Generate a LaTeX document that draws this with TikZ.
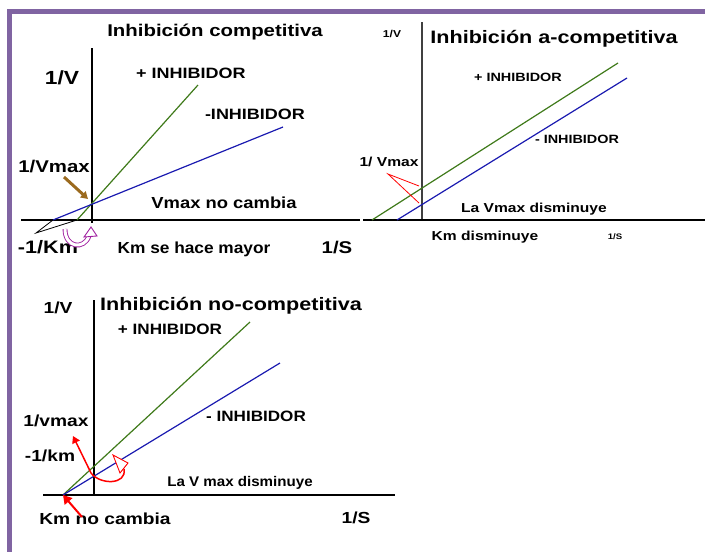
\documentclass[tikz,border=0pt]{standalone}
\usepackage{fontspec}
\setmainfont{Liberation Sans}
\usetikzlibrary{arrows.meta}
\tikzset{>=Triangle}

\definecolor{framecol}{HTML}{8064A2}
\definecolor{pluscol}{HTML}{3F7A1A}
\definecolor{minuscol}{HTML}{1A1AB0}
\definecolor{vmaxcol}{HTML}{9B6A1E}
\definecolor{kmcol}{HTML}{A020A0}
\newcommand{\pxfont}[1]{\fontsize{#1}{#1}\selectfont}

\tikzset{
    txt/.style = {inner sep = 0pt, anchor = base, font = \bfseries\pxfont{#1}},
    txt/.default = 16,
    stretch/.style = {xscale = #1},
    stretch/.default = 1.2,
    axisline/.style = {black, line width = 2pt},
    plusline/.style = {pluscol, line width = 1.2pt},
    minusline/.style = {minuscol, line width = 1.2pt},
}

\begin{document}
\begin{tikzpicture}[x = 1pt, y = -1pt]
    \useasboundingbox (0,0) rectangle (705,552);
    \draw[framecol, line width = 5pt] (9.5,552) -- (9.5,11.5) -- (705,11.5);

    % competitiva
    \node[txt = 17, stretch] (ctitle) at (215,36) {Inhibición competitiva};
    \node[txt = 19, stretch] (cv) at (62,84) {1/V};
    \node[txt = 15, stretch] (cplus) at (191,78) {+ INHIBIDOR};
    \node[txt = 15, stretch] (cminus) at (255,119) {-INHIBIDOR};
    \node[txt = 17, stretch] (cvmax) at (54,172) {1/Vmax};
    \node[txt = 16, stretch = 1.15] (cnote) at (224,208) {Vmax no cambia};
    \node[txt = 18, stretch] (ckm) at (48,253) {-1/Km};
    \node[txt = 16, stretch = 1.08] (cmayor) at (194,253) {Km se hace mayor};
    \node[txt = 17, stretch] (cs) at (337,253) {1/S};

    \coordinate (co) at (92,220);
    \draw[axisline] (92,48) -- (92,223);
    \draw[axisline] (21,220) -- (360,220);
    \draw[plusline] (77,220) -- (198,85);
    \draw[minusline] (53,220) -- (283,127);
    \draw[vmaxcol, line width = 3pt, -{Triangle[length = 7pt, width = 8pt]}] (64,177) -- (88,199);
    \draw[black, line width = .8pt] (53,220) -- (36,233) -- (77,220);
    \draw[kmcol, line width = .9pt, double = white, double distance = 3pt] (65,229) .. controls (65,248) and (84,250) .. (89,236);
    \draw[kmcol, line width = .9pt, fill = white] (84,237) -- (91,227) -- (97,236) -- cycle;

    % a-competitiva
    \node[txt = 10, stretch] (av) at (392,37) {1/V};
    \node[txt = 18, stretch] (atitle) at (554,43) {Inhibición a-competitiva};
    \node[txt = 12, stretch] (aplus) at (518,81) {+ INHIBIDOR};
    \node[txt = 12, stretch] (aminus) at (577,143) {- INHIBIDOR};
    \node[txt = 13, stretch] (avmax) at (389,166) {1/ Vmax};
    \node[txt = 13, stretch] (anote) at (534,212) {La Vmax disminuye};
    \node[txt = 13, stretch] (akm) at (485,240) {Km disminuye};
    \node[txt = 8, stretch] (as) at (615,239) {1/S};

    \draw[black!75, line width = 1.2pt] (422,22) -- (422,220);
    \draw[black, line width = 1.5pt] (363,220) -- (705,220);
    \draw[plusline] (372,220) -- (618,63);
    \draw[minusline] (397,220) -- (627,78);
    \draw[red, line width = .8pt] (419,186) -- (388,174) -- (419,203);

    % no-competitiva
    \node[txt = 16, stretch] (nv) at (58,313) {1/V};
    \node[txt = 18, stretch] (ntitle) at (231,310) {Inhibición no-competitiva};
    \node[txt = 15, stretch = 1.14] (nplus) at (170,334) {+ INHIBIDOR};
    \node[txt = 15, stretch = 1.14] (nminus) at (256,421) {- INHIBIDOR};
    \node[txt = 16, stretch] (nvmax) at (56,426) {1/vmax};
    \node[txt = 16, stretch] (nkm) at (50,461) {-1/km};
    \node[txt = 14, stretch = 1.08] (nnote) at (240,486) {La V max disminuye};
    \node[txt = 16, stretch] (nsame) at (105,524) {Km no cambia};
    \node[txt = 16, stretch] (ns) at (356,523) {1/S};

    \coordinate (no) at (63,495);
    \draw[axisline] (94,300) -- (94,495);
    \draw[axisline] (43,495) -- (395,495);
    \draw[plusline] (no) -- (250,322);
    \draw[minusline] (no) -- (280,363);
    \draw[red, line width = 1.5pt, ->] (91,473) -- (73,436);
    \draw[red, line width = 1.5pt] (91,473) .. controls (100,485) and (127,485) .. (124,469);
    \draw[red, line width = .9pt, fill = white] (113,455) -- (128,463) -- (120,473) -- cycle;
    \draw[red, line width = 2pt, ->] (82,517) -- (no);
\end{tikzpicture}
\end{document}
